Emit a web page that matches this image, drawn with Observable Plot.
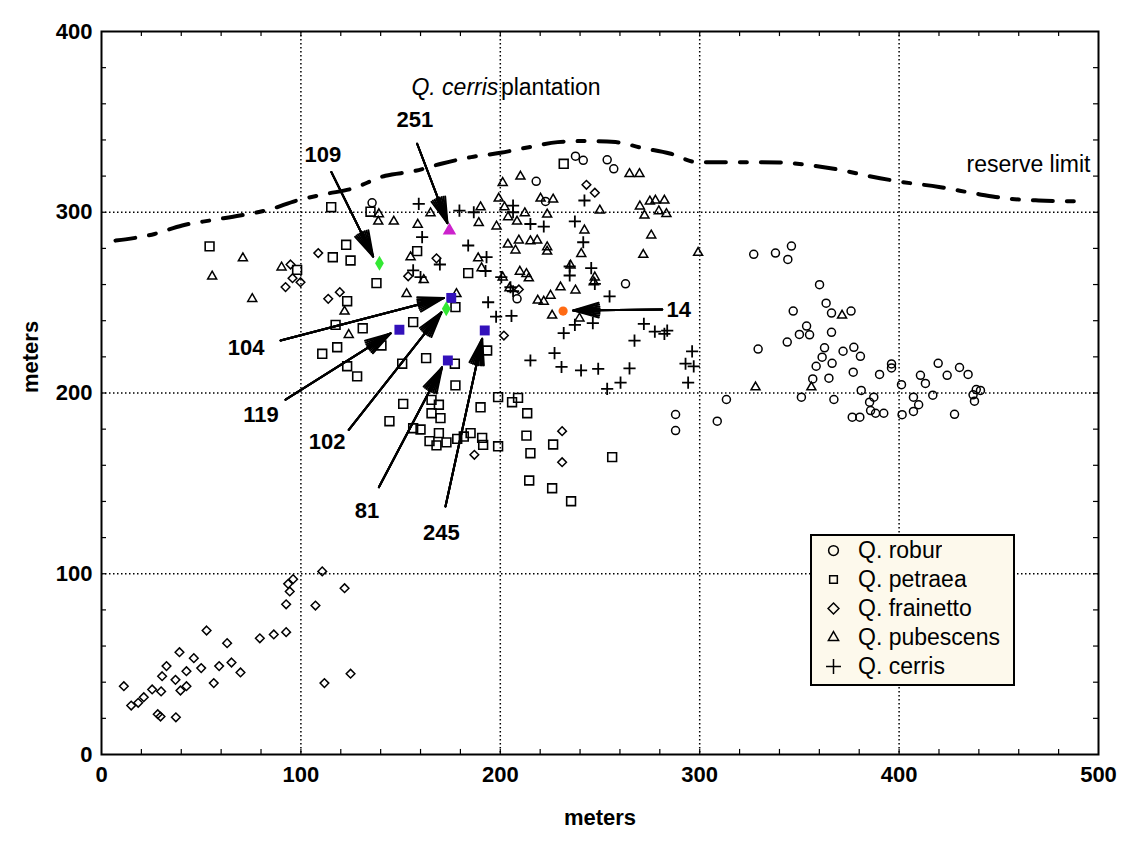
<!DOCTYPE html>
<html><head><meta charset="utf-8">
<script src="https://cdn.jsdelivr.net/npm/d3@7"></script>
<script src="https://cdn.jsdelivr.net/npm/@observablehq/plot@0.6"></script>
<style>
html,body{margin:0;padding:0;background:#fff;}
#chart{position:relative;width:1128px;height:846px;font-family:"Liberation Sans",Arial,sans-serif;color:#000;}
#chart svg{display:block;}
#legend{position:absolute;left:810px;top:534px;width:201px;height:148px;border:2px solid #000;background:#fdf9ec;}
#legend > div{margin:0;padding:0 0 0 14px;font-family:"Liberation Sans",Arial,sans-serif;font-size:23px;color:#000;}
#legend [class$="-swatch"]{height:29px;padding:0;display:flex;align-items:center;}
#legend svg{margin-right:17px;}
</style></head>
<body><div id="chart"></div>
<script>
// ---- data (meters) ----
const robur = [
[327.1,276.7],[338.0,277.4],[346.0,281.3],[344.2,273.9],[360.1,259.9],[363.4,249.7],[366.1,244.2],[375.9,245.3],
[346.9,245.3],[353.6,237.0],[350.0,232.4],[355.1,232.2],[366.1,233.6],[343.9,228.2],[329.3,224.3],[362.6,225.0],
[371.9,223.1],[377.3,225.3],[380.6,220.3],[361.4,219.8],[358.4,214.8],[366.4,216.4],[377.0,211.5],[364.8,208.2],
[356.7,207.8],[390.2,210.3],[396.2,216.1],[396.2,213.9],[381.0,201.4],[351.0,197.7],[367.3,196.4],[387.3,197.7],
[385.2,194.9],[385.7,190.3],[388.2,188.8],[392.3,188.8],[376.5,186.6],[380.3,186.6],[401.2,204.6],[401.5,188.0],
[407.2,197.7],[407.2,189.8],[409.8,193.5],[410.7,209.8],[413.2,205.3],[416.9,198.8],[419.6,216.4],[424.1,209.8],
[430.3,214.1],[434.6,210.3],[427.8,188.2],[437.1,199.0],[437.8,195.5],[438.7,201.9],[440.8,201.4],[313.4,196.4],
[308.8,184.4],[135.7,305.2],[218.0,317.1],[222.7,306.0],[237.7,331.0],[241.6,328.7],[253.6,329.0],[256.9,324.0],
[262.8,260.4],[287.9,188.1],[287.9,179.2],[208.4,252.1]
];
const petraea = [
[54.2,281.1],[115.2,302.8],[122.7,282.0],[116.0,275.1],[124.9,273.3],[98.1,268.1],[123.2,250.8],[117.4,237.7],
[110.7,221.7],[118.2,225.3],[123.2,214.8],[134.9,300.3],[137.9,260.8],[131.0,235.8],[158.3,278.5],[156.3,239.2],
[183.9,266.3],[177.5,247.5],[231.8,326.8],[128.2,209.2],[140.4,226.3],[150.8,216.2],[162.8,219.3],[177.2,216.2],
[177.5,204.2],[193.4,223.5],[151.3,194.0],[144.4,184.4],[165.5,196.2],[169.2,193.5],[165.5,188.8],[170.0,186.1],
[156.3,180.5],[160.0,179.8],[169.2,177.8],[164.5,173.4],[168.0,171.0],[173.0,172.7],[178.4,174.6],[181.7,175.9],
[185.1,177.8],[190.9,175.2],[191.4,171.3],[198.9,170.5],[190.1,192.1],[198.9,197.7],[205.9,194.9],[208.9,197.3],
[213.5,188.8],[213.1,176.4],[215.1,166.7],[226.5,171.5],[214.5,151.6],[226.0,147.3],[235.5,140.1],[256.1,164.5]
];
const frainetto = [
[11.2,37.8],[14.9,27.1],[18.4,28.6],[21.2,31.7],[25.4,36.0],[29.9,34.9],[28.2,22.3],[29.6,21.0],[37.3,20.6],
[30.4,43.3],[32.6,48.9],[37.1,41.3],[39.1,56.6],[39.6,35.4],[42.6,37.8],[42.6,46.1],[46.3,53.3],[50.0,47.8],
[52.7,68.6],[56.3,39.5],[59.0,48.9],[63.0,61.6],[65.2,50.9],[69.7,45.4],[79.4,64.3],[86.4,66.4],[92.6,67.7],
[92.6,83.1],[94.4,90.2],[93.6,94.4],[96.1,97.0],[110.7,101.3],[107.3,82.4],[121.9,92.0],[111.8,39.5],[124.9,44.7],
[94.8,271.1],[95.8,263.5],[99.8,261.3],[92.3,258.6],[108.7,277.4],[113.7,252.1],[119.5,255.8],[168.0,274.5],
[153.8,264.6],[209.3,257.3],[201.8,231.8],[231.0,178.9],[231.0,161.7],[187.0,165.8],[243.2,315.2],[247.4,310.8]
];
const pubescens = [
[55.5,264.5],[70.9,274.6],[75.6,252.1],[90.3,269.5],[121.9,245.1],[124.0,232.2],[139.1,299.0],[138.8,294.9],
[146.6,294.9],[158.6,293.2],[165.0,299.5],[155.0,275.2],[188.9,274.6],[190.6,269.1],[161.6,262.6],[153.0,254.8],
[178.0,254.8],[190.1,302.8],[189.2,294.1],[198.1,292.2],[201.2,316.3],[210.1,319.8],[199.2,307.6],[202.1,302.8],
[203.9,297.3],[208.4,294.9],[212.3,299.5],[223.5,298.8],[220.2,307.6],[226.5,307.1],[203.8,282.2],[209.3,284.4],
[215.1,284.0],[218.5,284.4],[223.5,280.7],[223.5,278.3],[207.6,278.9],[201.2,264.0],[209.8,267.2],[213.1,265.9],
[214.3,263.5],[204.6,258.0],[218.8,251.2],[221.8,250.6],[225.2,253.9],[230.2,258.5],[235.2,270.6],[237.7,256.8],
[226.0,242.9],[264.8,321.2],[269.8,321.2],[249.9,301.0],[270.0,303.3],[272.3,298.2],[275.0,306.0],[277.8,306.5],
[282.3,306.5],[279.5,300.6],[283.3,299.1],[275.7,287.2],[271.7,276.5],[299.2,277.6],[242.2,290.0],[240.6,277.0],
[247.4,264.0],[246.9,261.3],[239.7,241.3],[371.4,242.9],[328.0,203.2],[356.0,203.2]
];
const cerris = [
[159.1,304.6],[179.5,300.9],[186.7,300.0],[160.8,286.2],[183.9,281.6],[169.7,271.1],[193.1,275.2],[192.6,267.5],
[156.3,267.8],[160.0,264.1],[200.5,264.1],[206.4,303.7],[206.4,300.0],[215.1,293.5],[221.8,292.1],[237.4,294.9],
[234.8,270.0],[234.8,265.0],[205.1,258.5],[206.4,256.3],[193.9,250.2],[197.9,242.2],[205.6,242.7],[237.4,237.7],
[231.8,233.1],[242.2,306.5],[241.6,283.4],[245.6,269.1],[247.4,260.4],[254.8,253.5],[246.4,238.7],[272.0,238.2],
[277.5,234.0],[282.3,232.7],[283.7,234.5],[267.3,229.0],[296.2,223.0],[292.9,216.2],[297.0,214.7],[294.2,205.7],
[240.5,212.5],[249.1,213.4],[264.8,213.6],[253.6,202.3],[260.3,205.7],[227.2,222.1],[215.1,218.0],[230.7,214.4]
];
// highlighted trees
const blueTrees = [[175.4,252.6],[149.4,235.0],[173.7,218.0],[192.2,234.6]];   // 104, 119, 81, 245
const greenTrees = [[139.4,271.8],[172.9,246.6]];                              // 109, 102
const magentaTrees = [[174.5,289.9]];                                          // 251
const orangeTrees = [[231.5,245.3]];                                           // 14

// annotations
const labels = ["109","251","104","119","102","81","245","14"];
const labelX = [111.0,157.2,72.5,80.0,113.1,133.1,170.5,289.5];
const labelY = [331.9,350.8,224.9,187.8,172.9,134.6,122.8,246.1];
const arrowX1 = [115.3,158.3,89.8,92.3,124.0,139.1,172.5,281.2];
const arrowY1 = [322.2,337.9,229.0,196.3,179.6,147.9,137.2,246.2];
const arrowX2 = [136.2,173.5,171.7,145.0,170.5,170.8,190.9,236.5];
const arrowY2 = [275.5,294.0,252.6,233.0,244.6,214.2,230.0,245.7];

// reserve limit
const reserveX = [7,12,26.6,40.5,55.2,69.4,83.9,98.1,112.8,124.9,142.4,156.6,170.9,185.4,200.1,214.3,228.8,241.9,257.8,271.4,285,299,320,340,355,370,385,400,420,440,455,470,490];
const reserveY = [284.3,285,288,292.7,295.6,298.2,301.4,306.5,310.2,312.8,320.2,322.7,327,330.5,332.9,336,338.8,339.4,338.8,335.5,332.5,327.7,327.7,327.5,326,323.5,320,317,314,310,307.5,306.5,306];

const speciesNames = ["Q. robur","Q. petraea","Q. frainetto","Q. pubescens","Q. cerris"];
const speciesSymbols = ["circle","square2","diamond2","triangle2","plus"];
const xTicks = [0,100,200,300,400,500];
const yTicks = [0,100,200,300,400];
const gridXv = [100,200,300,400];
const gridYv = [100,200,300];
const minorX = [20,40,60,80,100,120,140,160,180,200,220,240,260,280,300,320,340,360,380,400,420,440,460,480];
const minorY = [20,40,60,80,100,120,140,160,180,200,220,240,260,280,300,320,340,360,380];

// ---- build ----
const reserve = reserveX.map((x, i) => ({x, y: reserveY[i]}));
const ann = labels.map((t, i) => ({t, x: labelX[i], y: labelY[i], x1: arrowX1[i], y1: arrowY1[i], x2: arrowX2[i], y2: arrowY2[i]}));
const px = d => d[0], py = d => d[1];
const font = "'Liberation Sans', Arial, sans-serif";

const headAngles = [32, 24, 16, 8];

const plot = Plot.plot({
  width: 1128, height: 846,
  marginLeft: 101, marginRight: 30, marginTop: 31, marginBottom: 92,
  x: {domain: [0, 500]},
  y: {domain: [0, 400]},
  style: {fontFamily: font, background: "#fff", color: "#000", overflow: "visible"},
  marks: [
    Plot.ruleX(gridXv, {stroke: "#000", strokeWidth: 1.5, strokeDasharray: "1.5,2.5"}),
    Plot.ruleY(gridYv, {stroke: "#000", strokeWidth: 1.5, strokeDasharray: "1.5,2.5"}),
    Plot.ruleX(minorX, {y1: 0, y2: 2.8, stroke: "#000", strokeWidth: 1.2}),
    Plot.ruleX(minorX, {y1: 397.2, y2: 400, stroke: "#000", strokeWidth: 1.2}),
    Plot.ruleY(minorY, {x1: 0, x2: 2.5, stroke: "#000", strokeWidth: 1.2}),
    Plot.ruleY(minorY, {x1: 497.5, x2: 500, stroke: "#000", strokeWidth: 1.2}),
    Plot.axisX({ticks: xTicks, tickSize: 0, tickPadding: 12, fontSize: 22, fontWeight: "bold", label: null}),
    Plot.axisY({ticks: yTicks, tickSize: 0, tickPadding: 9, fontSize: 22, fontWeight: "bold", label: null}),
    Plot.text(["meters"], {frameAnchor: "bottom", dy: 70, fontSize: 22, fontWeight: "bold"}),
    Plot.text(["meters"], {frameAnchor: "left", dx: -71, rotate: -90, fontSize: 22, fontWeight: "bold"}),
    // reserve limit
    Plot.line(reserve, {x: "x", y: "y", curve: "monotone-x", stroke: "#000", strokeWidth: 4, strokeDasharray: "20,14,7,14"}),
    Plot.text(["reserve limit"], {x: 433.8, y: 326.1, textAnchor: "start", fontSize: 23}),
    Plot.text(["Q. cerris"], {x: 199, y: 368.7, textAnchor: "end", fontSize: 23, fontStyle: "italic"}),
    Plot.text(["plantation"], {x: 200.3, y: 368.7, textAnchor: "start", fontSize: 23}),
    // species
    Plot.dot(robur, {x: px, y: py, symbol: "circle", r: 4.0, stroke: "#000", strokeWidth: 1.5, fill: "none"}),
    Plot.dot(petraea, {x: px, y: py, symbol: "square2", r: 5.6, stroke: "#000", strokeWidth: 1.6, fill: "none"}),
    Plot.dot(frainetto, {x: px, y: py, symbol: "diamond2", r: 3.9, stroke: "#000", strokeWidth: 1.5, fill: "none"}),
    Plot.dot(pubescens, {x: px, y: py, symbol: "triangle2", r: 4.3, stroke: "#000", strokeWidth: 1.5, fill: "none"}),
    Plot.dot(cerris, {x: px, y: py, symbol: "plus", r: 4.0, stroke: "#000", strokeWidth: 1.8}),
    // highlighted
    Plot.dot(blueTrees, {x: px, y: py, symbol: "square", r: 5.6, fill: "#3311bb"}),
    Plot.dot(greenTrees, {x: px, y: py, symbol: "diamond", r: 4.6, fill: "#33e833"}),
    Plot.dot(magentaTrees, {x: px, y: py, symbol: "triangle", r: 5.0, fill: "#cc22cc"}),
    Plot.dot(orangeTrees, {x: px, y: py, symbol: "circle", r: 4.6, fill: "#ff6a13"}),
    // arrows
    ...headAngles.map(a => Plot.arrow(ann, {x1: "x1", y1: "y1", x2: "x2", y2: "y2", stroke: "#000", strokeWidth: 2, headLength: 20, headAngle: a})),
    Plot.text(ann, {x: "x", y: "y", text: "t", fontSize: 22, fontWeight: "bold"}),
    Plot.frame({stroke: "#000", strokeWidth: 2})
  ]
});

const chart = document.getElementById("chart");
chart.appendChild(plot);

const legend = Plot.legend({
  symbol: {type: "ordinal", domain: speciesNames, range: speciesSymbols},
  columns: 1, fill: "none", stroke: "#000", strokeWidth: 1.6, r: 5.2
});
const lw = document.createElement("div");
lw.id = "legend";
lw.appendChild(legend);
chart.appendChild(lw);
</script>
</body></html>
